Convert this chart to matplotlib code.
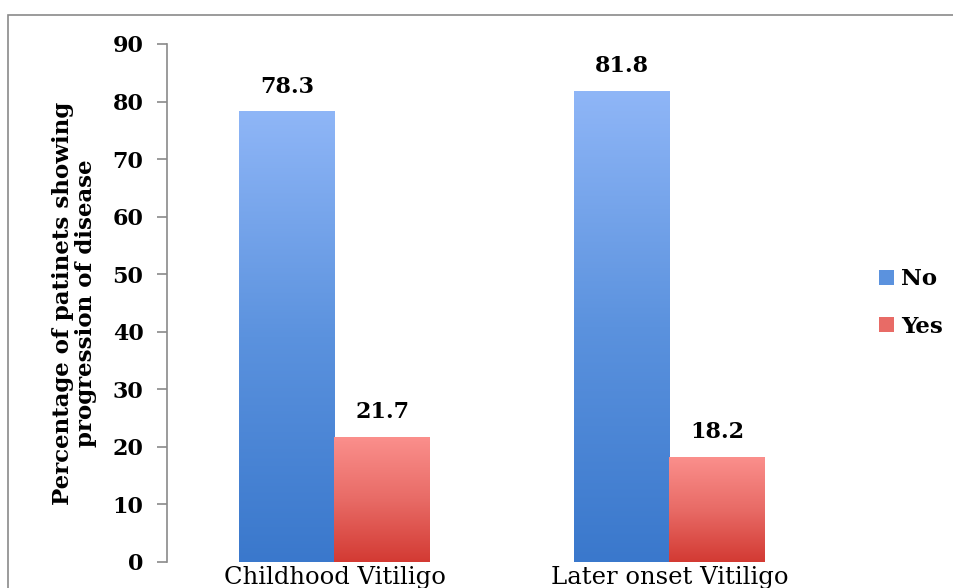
import numpy as np
import matplotlib
matplotlib.use("Agg")
import matplotlib.pyplot as plt
from matplotlib.colors import LinearSegmentedColormap
from matplotlib.patches import Rectangle, Patch

categories = ["Childhood Vitiligo", "Later onset Vitiligo"]
series_names = ["No", "Yes"]
no_values = [78.3, 81.8]
yes_values = [21.7, 18.2]
yticks = [0, 10, 20, 30, 40, 50, 60, 70, 80, 90]

serif = ["DejaVu Serif"]
fig = plt.figure(figsize=(9.54, 5.88), dpi=100)
ax = fig.add_axes([167/954, 1-562/588, (837-167)/954, (562-44)/588])

# frame around the chart
fig.patches.append(Rectangle((8/954, -0.1), 2.0, (1-15/588)+0.1, transform=fig.transFigure,
                             fill=False, edgecolor="#8a8a8a", linewidth=1.2))

x = np.arange(len(categories))
w = 0.285
blue_cmap = LinearSegmentedColormap.from_list("b", ["#3a78cc", "#5b92de", "#8fb6f7"])
red_cmap = LinearSegmentedColormap.from_list("r", ["#d33a33", "#e86b66", "#fb8f8c"])

bars_no = ax.bar(x - w/2, no_values, w, color="none", edgecolor="none")
bars_yes = ax.bar(x + w/2, yes_values, w, color="none", edgecolor="none")
grad = np.linspace(0, 1, 256).reshape(-1, 1)
for bars, cmap in [(bars_no, blue_cmap), (bars_yes, red_cmap)]:
    for b in bars:
        x0, y0 = b.get_x(), b.get_y()
        bw, bh = b.get_width(), b.get_height()
        im = ax.imshow(grad, cmap=cmap, origin="lower", aspect="auto",
                       extent=(x0, x0 + bw, y0, y0 + bh), zorder=2)
        im.set_clip_path(b)
        ax.text(x0 + bw/2, bh + 2.4, f"{bh:.1f}", ha="center", va="bottom",
                fontsize=16, fontweight="bold", family=serif)

ax.set_xlim(-0.5, 1.5)
ax.set_ylim(0, 90)
ax.set_yticks(yticks)
ax.set_yticklabels([str(t) for t in yticks], fontsize=16, fontweight="bold", family=serif)
ax.set_xticks(x)
ax.set_xticklabels(categories, fontsize=17.5, family=serif)
ax.tick_params(axis="x", length=0, pad=3)
ax.tick_params(axis="y", length=7, width=1.2, color="#8a8a8a", direction="out", pad=10)
for s in ["top", "right", "bottom"]:
    ax.spines[s].set_visible(False)
ax.spines["left"].set_color("#8a8a8a")
ax.spines["left"].set_linewidth(1.2)

ax.set_ylabel("Percentage of patinets showing\nprogression of disease", fontsize=16.5,
              fontweight="bold", family=serif, labelpad=11, linespacing=1.1)

handles = [Patch(facecolor="#5b92de", label="No"), Patch(facecolor="#e86b66", label="Yes")]
leg = fig.legend(handles=handles, loc="center left", bbox_to_anchor=(879/954, 1-303/588),
                 frameon=False, handlelength=0.65, handleheight=0.65, handletextpad=0.3,
                 labelspacing=1.1, borderaxespad=0, borderpad=0,
                 prop={"family": serif, "weight": "bold", "size": 16.5})

fig.savefig("out.png", dpi=100)
